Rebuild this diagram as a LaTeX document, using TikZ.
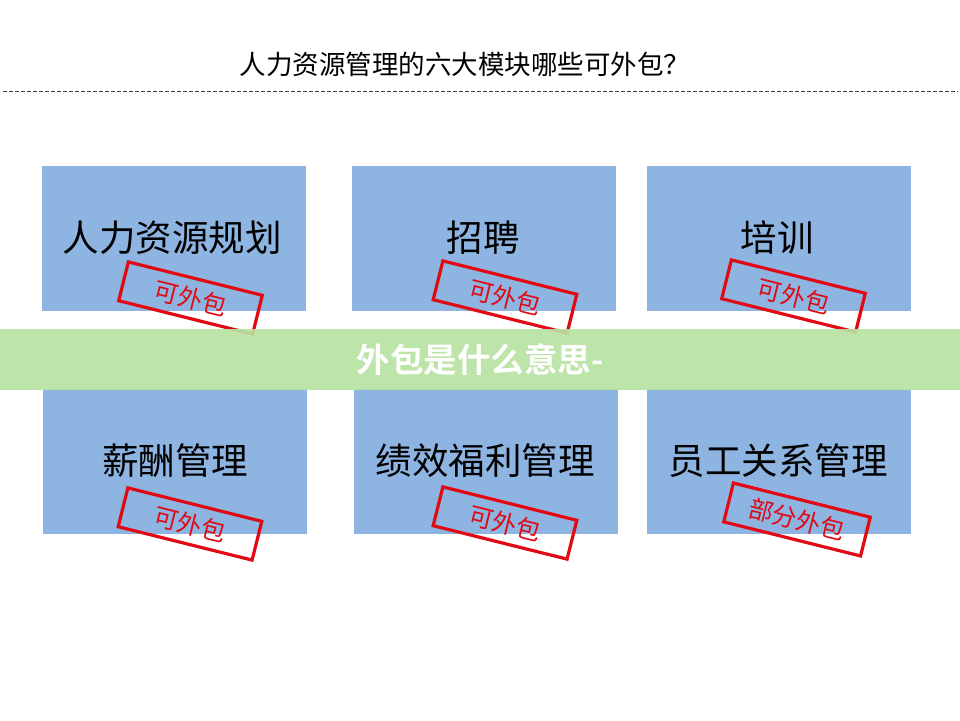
\documentclass[tikz,border=0pt]{standalone}
\usepackage{fontspec}
\newfontfamily\cjk{Noto Sans CJK SC}
\newfontfamily\cjkbold{Noto Sans CJK SC Bold}
\definecolor{boxblue}{RGB}{142,180,226}
\definecolor{bandgreen}{RGB}{184,226,162}
\definecolor{stampred}{RGB}{225,10,20}
\begin{document}
\begin{tikzpicture}[x=1pt,y=-1pt,
  module/.style={fill=boxblue, draw=none, minimum width=264pt, minimum height=145pt, inner sep=0pt},
  modtext/.style={font=\cjk\fontsize{36.5}{40}\selectfont, text=black, inner sep=0pt},
  stampbox/.style={draw=stampred, line width=3.2pt, rotate=-14, minimum width=138pt, minimum height=40pt, inner sep=0pt, text=stampred, font=\cjk\fontsize{24.5}{26}\selectfont}
]
\useasboundingbox (0,0) rectangle (960,720);
\fill[white] (0,0) rectangle (960,720);
% title
\node[font=\cjk\fontsize{26.5}{30}\selectfont, inner sep=0pt] (title) at (465,64) {人力资源管理的六大模块哪些可外包？};
\coordinate (dl) at (3,91);
\coordinate (dr) at (958,91);
\draw[black!75, line width=0.9pt, dash pattern=on 3.5pt off 2.5pt] (dl) -- (dr);
% modules
\node[module] (m1) at (174,238.5) {};
\node[module] (m2) at (483.5,238.5) {};
\node[module] (m3) at (778.5,238.5) {};
\node[module] (m4) at (175,461) {};
\node[module] (m5) at (485.5,461) {};
\node[module] (m6) at (778.5,461) {};
\node[modtext] (t1) at (172,238) {人力资源规划};
\node[modtext] (t2) at (483,238) {招聘};
\node[modtext] (t3) at (777,238) {培训};
\node[modtext] (t4) at (175,461) {薪酬管理};
\node[modtext] (t5) at (485,461) {绩效福利管理};
\node[modtext] (t6) at (778,461) {员工关系管理};
% stamps
\node[stampbox] (s1) at (190.5,298) {可外包};
\node[stampbox] (s2) at (505,297) {可外包};
\node[stampbox] (s3) at (793.5,296) {可外包};
\node[stampbox] (s4) at (190,524) {可外包};
\node[stampbox] (s5) at (505,523) {可外包};
\node[stampbox, minimum width=141pt] (s6) at (797,519.5) {部分外包};
% banner
\fill[bandgreen, opacity=0.92] (0,329) rectangle (960,390);
\node[font=\cjkbold\fontsize{33.5}{38}\selectfont, text=white, inner sep=0pt] (banner) at (480,360) {外包是什么意思-};
\end{tikzpicture}
\end{document}
